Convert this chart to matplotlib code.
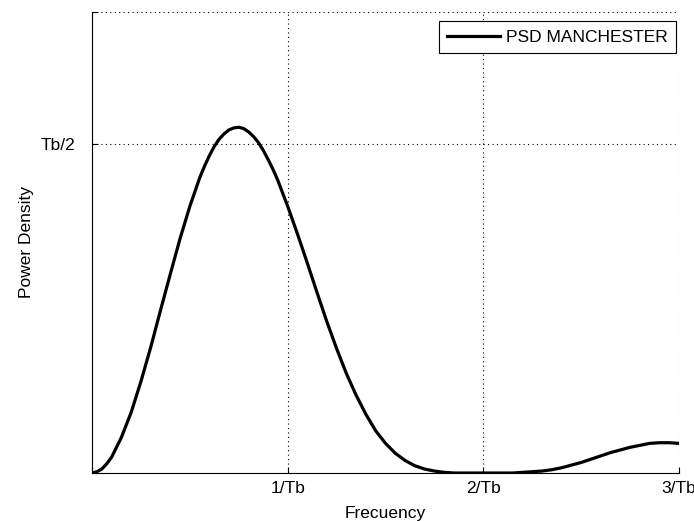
import matplotlib
matplotlib.use("Agg")
import matplotlib.pyplot as plt

# Frequency in units of 1/Tb, power density in units of Tb
freq = [0.000, 0.025, 0.050, 0.075, 0.100, 0.150, 0.200, 0.250, 0.300, 0.350,
        0.400, 0.450, 0.500, 0.550, 0.575, 0.600, 0.625, 0.650, 0.675, 0.700,
        0.725, 0.750, 0.775, 0.800, 0.825, 0.850, 0.875, 0.900, 0.925, 0.950,
        1.00, 1.05, 1.10, 1.15, 1.20, 1.25, 1.30, 1.35, 1.40, 1.45,
        1.50, 1.55, 1.60, 1.65, 1.70, 1.75, 1.80, 1.85, 1.90, 1.95,
        2.00, 2.05, 2.10, 2.15, 2.20, 2.25, 2.30, 2.35, 2.40, 2.45,
        2.50, 2.55, 2.60, 2.65, 2.70, 2.75, 2.80, 2.85, 2.90, 2.95,
        3.00]
psd = [0.000, 0.002, 0.006, 0.014, 0.024, 0.054, 0.092, 0.139, 0.191, 0.247,
       0.302, 0.356, 0.405, 0.448, 0.466, 0.482, 0.496, 0.507, 0.515, 0.521,
       0.524, 0.525, 0.523, 0.518, 0.511, 0.502, 0.490, 0.476, 0.461, 0.444,
       0.405, 0.363, 0.319, 0.274, 0.230, 0.189, 0.151, 0.118, 0.089, 0.064,
       0.045, 0.030, 0.019, 0.011, 0.006, 0.003, 0.001, 0.000, 0.000, 0.000,
       0.000, 0.000, 0.000, 0.000, 0.001, 0.002, 0.003, 0.005, 0.008, 0.012,
       0.016, 0.021, 0.026, 0.031, 0.035, 0.039, 0.042, 0.045, 0.046, 0.046,
       0.045]

x_ticks = [0, 1, 2, 3]
x_labels = ["", "1/Tb", "2/Tb", "3/Tb"]
y_ticks = [0, 0.5, 0.7]
y_labels = ["", "Tb/2", ""]

plt.rcParams["font.family"] = ["Liberation Sans", "DejaVu Sans"]
FS = 12.5

fig = plt.figure(figsize=(6.94, 5.21), dpi=100)
ax = fig.add_axes([0.1326, 0.0921, 0.8458, 0.8849])

ax.plot(freq, psd, color="black", linewidth=2.3, solid_joinstyle="round",
        label="PSD MANCHESTER")

ax.set_xlim(0, 3)
ax.set_ylim(0, 0.7)
ax.set_xticks(x_ticks)
ax.set_xticklabels(x_labels)
ax.set_yticks(y_ticks)
ax.set_yticklabels(y_labels)
ax.tick_params(direction="in", length=4.5, width=0.8, labelsize=FS)
ax.tick_params(axis="x", pad=6)
ax.tick_params(axis="y", pad=12)

ax.spines["top"].set_visible(False)
ax.spines["right"].set_visible(False)
ax.grid(True, color="black", linestyle=(0, (1, 3)), linewidth=0.8)

ax.set_xlabel("Frecuency", fontsize=FS, labelpad=7)
ax.set_ylabel("Power Density", fontsize=FS, labelpad=5)

leg = ax.legend(loc="upper right", fontsize=FS, fancybox=False, framealpha=1,
                edgecolor="black", handlelength=3.05, handletextpad=0.3,
                borderpad=0.5, borderaxespad=0,
                bbox_to_anchor=(0.9949, 0.9805))
leg.get_frame().set_linewidth(0.8)

fig.savefig("out.png", dpi=100)
